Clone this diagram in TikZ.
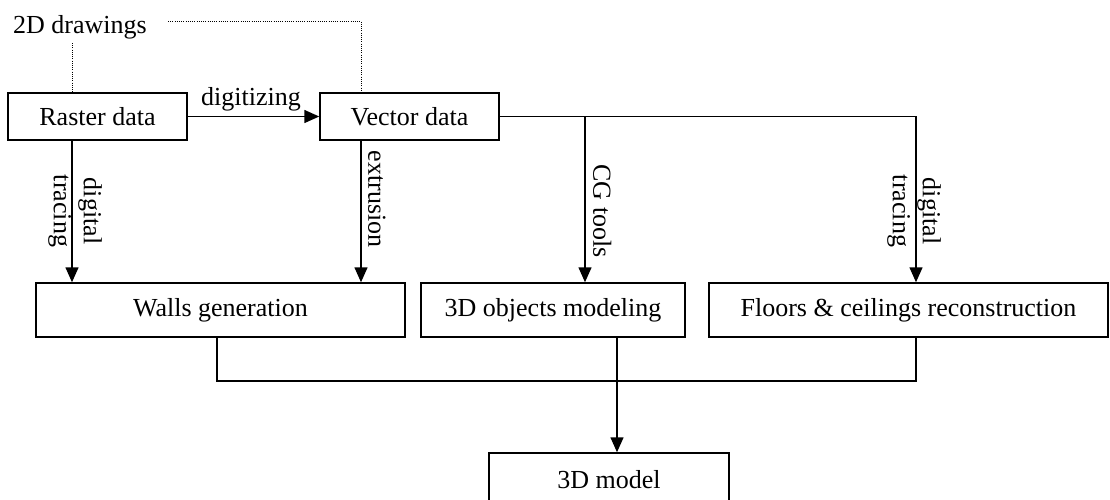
\documentclass[tikz,border=0pt]{standalone}
\usepackage{fontspec}
\setmainfont{Liberation Serif}
\usetikzlibrary{arrows.meta}
\begin{document}
\begin{tikzpicture}[x=1pt,y=-1pt,
  every node/.style={font=\fontsize{26}{30}\selectfont, inner sep=0pt},
  box/.style={draw, line width=1.5pt, minimum width=#1},
  smallbox/.style={box=#1, minimum height=47pt},
  bigbox/.style={box=#1, minimum height=54pt},
  conn/.style={line width=1.5pt},
  arr/.style={conn, -{Triangle[length=15pt,width=13pt]}},
  dot/.style={line width=1pt, dash pattern=on 1pt off 1.2pt},
  vlabel/.style={rotate=-90, align=center}]
\useasboundingbox (0,0) rectangle (1110,499);

% nodes
\node[anchor=base] (dd) at (80,33) {2D drawings};
\node[smallbox=179pt] (raster) at (97.5,116.5) {Raster data};
\node[smallbox=179pt] (vector) at (409.5,116.5) {Vector data};
\node[bigbox=369pt] (walls) at (220.5,310) {Walls generation};
\node[bigbox=264pt] (objects) at (553,310) {3D objects modeling};
\node[bigbox=399pt] (floors) at (908.5,310) {Floors \& ceilings reconstruction};
\node[bigbox=240pt] (model) at (609,480) {3D model};

% helper coordinates
\coordinate (lx) at (72,0);
\coordinate (vx) at (361,0);
\coordinate (cgx) at (585,0);
\coordinate (trx) at (916,0);
\coordinate (wx) at (217,0);
\coordinate (mx) at (617,0);
\coordinate (hy) at (0,381);
\coordinate (dA) at (168,21);
\coordinate (dB) at (72,43);

% dotted links from 2D drawings
\draw[dot] (dA) -| (vector.north -| vx);
\draw[dot] (dB) -- (raster.north -| lx);

% top connectors
\draw[arr] (raster.east) -- (vector.west);
\draw[arr] (vector.east) -| (floors.north -| trx);
\draw[arr] (vector.east -| cgx) -- (objects.north -| cgx);
\draw[arr] (raster.south -| lx) -- (walls.north -| lx);
\draw[arr] (vector.south -| vx) -- (walls.north -| vx);

% bottom connectors
\draw[conn] (walls.south -| wx) |- (hy -| trx) -- (floors.south -| trx);
\draw[arr] (objects.south -| mx) -- (model.north -| mx);

% labels
\node[anchor=base] (lbdig) at (251,105) {digitizing};
\node[vlabel] (lbtr1) at (75,211) {digital\\tracing};
\node[vlabel, anchor=south] (lbext) at (368,199) {extrusion};
\node[vlabel, anchor=south] (lbcg) at (593,211) {CG tools};
\node[vlabel] (lbtr2) at (914,211) {digital\\tracing};
\end{tikzpicture}
\end{document}
